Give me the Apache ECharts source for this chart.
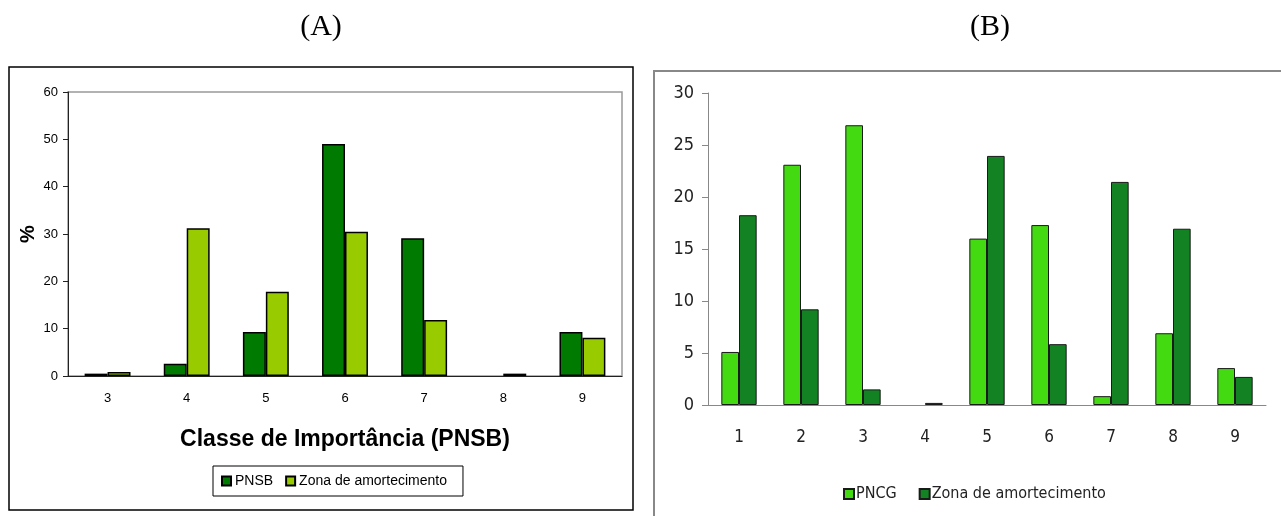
<!DOCTYPE html>
<html><head><meta charset="utf-8">
<script src="https://cdn.jsdelivr.net/npm/echarts@6/dist/echarts.min.js"></script>
<style>html,body{margin:0;padding:0;background:#fff}#c{width:1281px;height:516px}</style>
</head><body><div id="c"></div>
<script>
// Panel A data
const catsA = ['3','4','5','6','7','8','9'];
const pnsb = [0.5, 2.6, 9.3, 49.0, 29.1, 0, 9.3];
const zonaA = [0.85, 31.2, 17.8, 30.5, 11.85, 0.5, 8.1];
// Panel B data
const catsB = ['1','2','3','4','5','6','7','8','9'];
const pncg = [5.1, 23.1, 26.9, 0, 16.0, 17.3, 0.85, 6.9, 3.55];
const zonaB = [18.25, 9.2, 1.5, 0.2, 23.95, 5.85, 21.45, 16.95, 2.7];
const ticksA = [0, 60, 10];
const ticksB = [0, 30, 5];

// zero values draw no bar (no outline) in the reference
const bars = arr => arr.map(v => (v === 0 ? null : v));

const chart = echarts.init(document.getElementById('c'));
const narrow = "'Liberation Sans Narrow','DejaVu Sans Condensed',sans-serif";
const arial = "Arial, 'Liberation Sans', sans-serif";
const serif = "'Liberation Serif','Times New Roman',serif";
chart.setOption({
  animation: false,
  title: [
    {text: '(A)', left: 316, top: 7, textAlign: 'center', textStyle: {fontFamily: serif, fontSize: 30, fontWeight: 'normal', color: '#000'}},
    {text: '(B)', left: 985, top: 7, textAlign: 'center', textStyle: {fontFamily: serif, fontSize: 30, fontWeight: 'normal', color: '#000'}}
  ],
  graphic: [
    {type: 'rect', shape: {x: 9, y: 67, width: 624, height: 443}, style: {fill: 'none', stroke: '#000', lineWidth: 1.5}, z: -1},
    {type: 'rect', shape: {x: 654, y: 71, width: 700, height: 500}, style: {fill: 'none', stroke: '#888', lineWidth: 2}, z: -1}
  ],
  grid: [
    {left: 68, top: 92, width: 554, height: 284, show: true, borderColor: '#999', borderWidth: 1.5, backgroundColor: '#fff'},
    {left: 708, top: 93, width: 558, height: 312}
  ],
  legend: [
    {data: ['PNSB', 'Zona de amortecimento'], left: 213, top: 466, orient: 'horizontal',
     borderColor: '#000', borderWidth: 1, padding: [8, 16, 8, 8], itemWidth: 9, itemHeight: 9, itemGap: 12, icon: 'rect',
     textStyle: {fontFamily: arial, fontSize: 14, color: '#000', padding: [0, 0, 0, -1]}},
    {data: ['PNCG', 'Zona de amortecimento B'], left: 838, top: 481, itemWidth: 10, itemHeight: 10, itemGap: 22, icon: 'rect',
     formatter: n => n === 'PNCG' ? 'PNCG' : 'Zona de amortecimento',
     textStyle: {fontFamily: narrow, fontSize: 16, color: '#222', padding: [0, 0, 0, -3]}}
  ],
  xAxis: [
    {type: 'category', gridIndex: 0, data: catsA,
     name: 'Classe de Importância (PNSB)', nameLocation: 'middle', nameGap: 52,
     nameTextStyle: {fontFamily: arial, fontSize: 23, fontWeight: 'bold', color: '#000'},
     axisLine: {lineStyle: {color: '#222', width: 1}}, axisTick: {length: 5, lineStyle: {color: '#222'}},
     axisLabel: {margin: 16, fontFamily: arial, fontSize: 13, color: '#000'}},
    {type: 'category', gridIndex: 1, data: catsB,
     axisLine: {lineStyle: {color: '#888', width: 1}}, axisTick: {length: 6, lineStyle: {color: '#888'}},
     axisLabel: {margin: 24, fontFamily: narrow, fontSize: 17, color: '#222'}}
  ],
  yAxis: [
    {type: 'value', gridIndex: 0, min: ticksA[0], max: ticksA[1], interval: ticksA[2],
     name: '%', nameLocation: 'middle', nameGap: 30, nameRotate: 90,
     nameTextStyle: {fontFamily: arial, fontSize: 20, fontWeight: 'bold', color: '#000'},
     axisLine: {show: true, lineStyle: {color: '#222'}}, axisTick: {show: true, length: 5, lineStyle: {color: '#222'}},
     splitLine: {show: false},
     axisLabel: {margin: 10, fontFamily: arial, fontSize: 13, color: '#000'}},
    {type: 'value', gridIndex: 1, min: ticksB[0], max: ticksB[1], interval: ticksB[2],
     axisLine: {show: true, lineStyle: {color: '#888'}}, axisTick: {show: true, length: 6, lineStyle: {color: '#888'}},
     splitLine: {show: false},
     axisLabel: {margin: 14, fontFamily: narrow, fontSize: 18, color: '#222'}}
  ],
  series: [
    {name: 'PNSB', type: 'bar', xAxisIndex: 0, yAxisIndex: 0, data: bars(pnsb), barGap: '0%', barCategoryGap: '42%',
     itemStyle: {color: '#007A00', borderColor: '#000', borderWidth: 1.5}},
    {name: 'Zona de amortecimento', type: 'bar', xAxisIndex: 0, yAxisIndex: 0, data: bars(zonaA), barGap: '0%', barCategoryGap: '42%',
     itemStyle: {color: '#99CC00', borderColor: '#000', borderWidth: 1.5}},
    {name: 'PNCG', type: 'bar', xAxisIndex: 1, yAxisIndex: 1, data: bars(pncg), barGap: '0%', barCategoryGap: '43%',
     itemStyle: {color: '#44DA12', borderColor: '#1a1a1a', borderWidth: 1}},
    {name: 'Zona de amortecimento B', type: 'bar', xAxisIndex: 1, yAxisIndex: 1, data: bars(zonaB), barGap: '0%', barCategoryGap: '43%',
     itemStyle: {color: '#128222', borderColor: '#1a1a1a', borderWidth: 1}}
  ]
});
</script></body></html>
